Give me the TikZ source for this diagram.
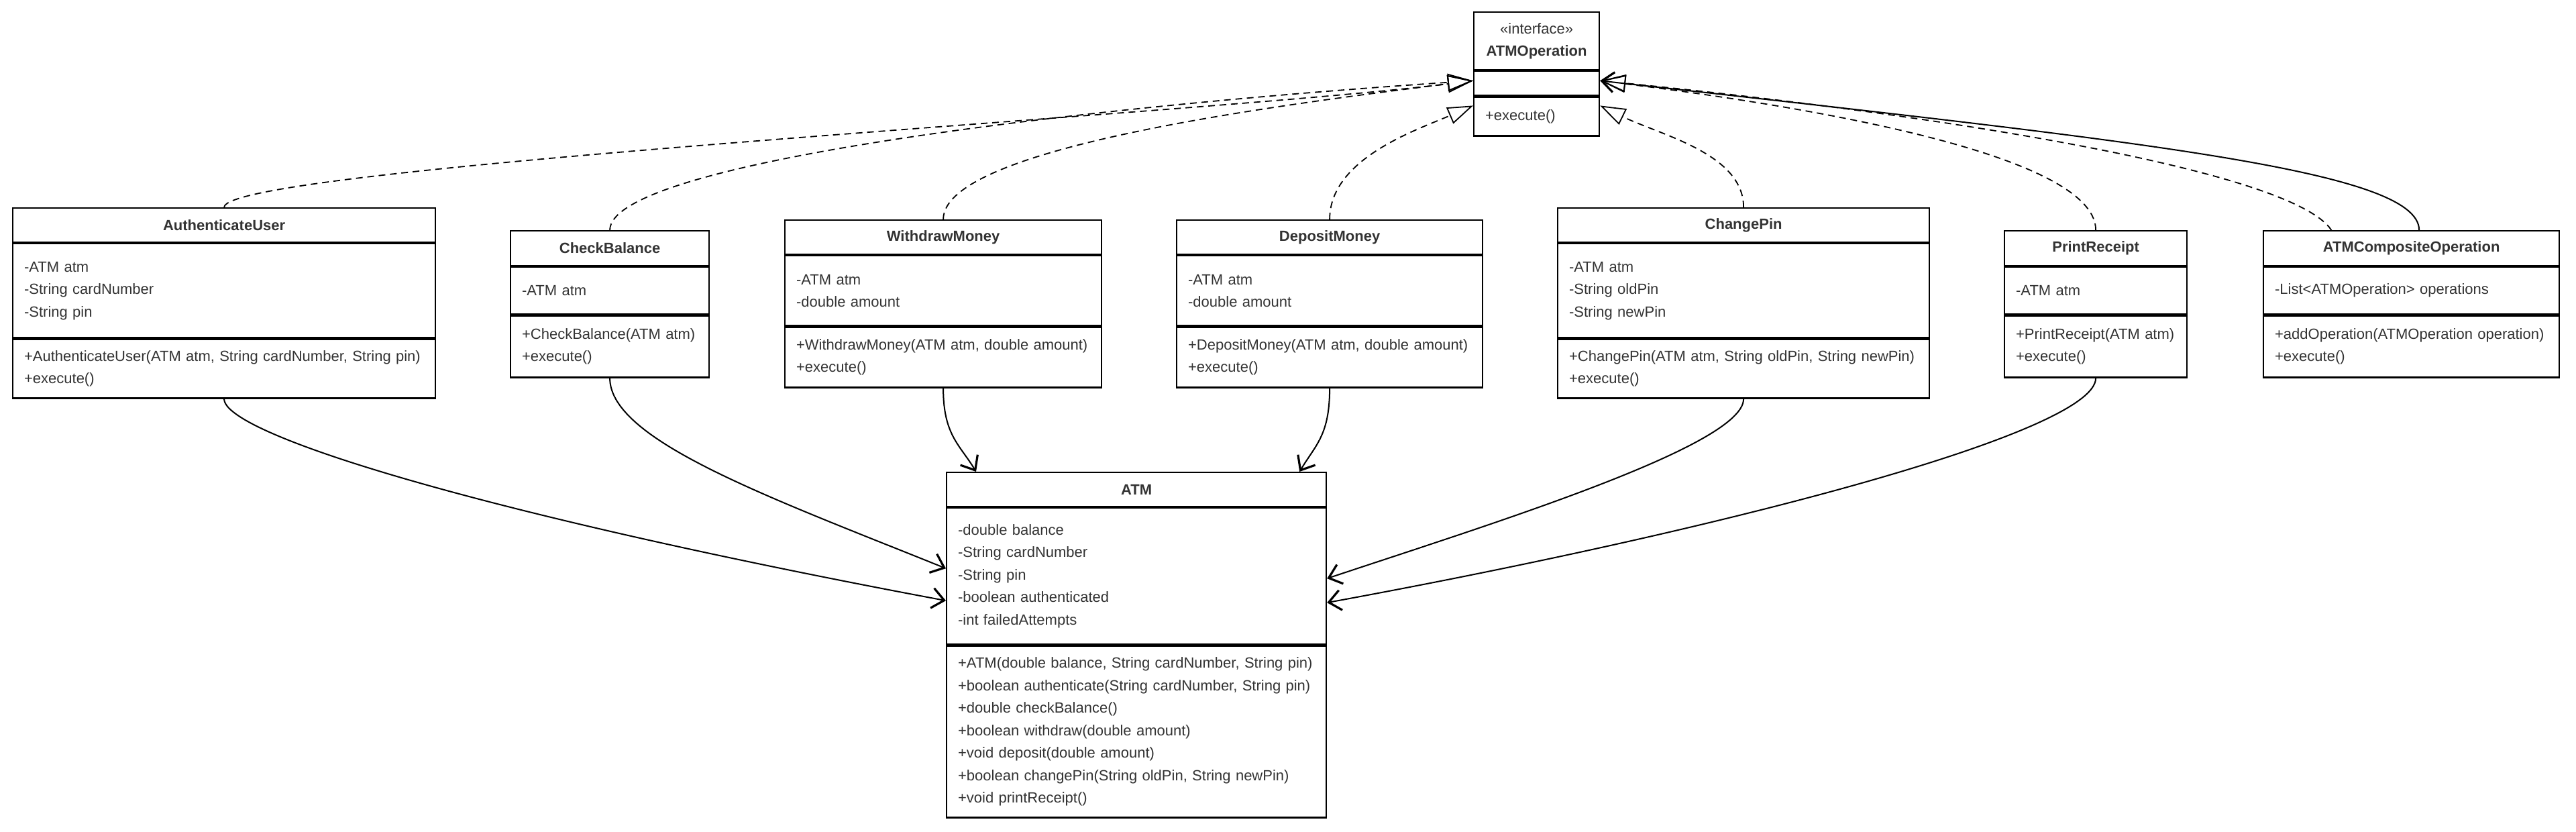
\documentclass[tikz,border=0pt]{standalone}
\usepackage{fontspec}
\setmainfont{Liberation Sans}
\usetikzlibrary{arrows.meta,calc}
\definecolor{txt}{HTML}{333333}
\begin{document}
\begin{tikzpicture}[x=1pt,y=-1pt,
  hdr/.style={draw, line width=1.1pt, anchor=north west, inner sep=0pt, align=center, text=txt, font=\fontsize{11}{16.75}\selectfont\bfseries},
  sec/.style={draw, line width=1.1pt, anchor=north west, inner xsep=8.5pt, inner ysep=0pt, align=left, text=txt, font=\fontsize{11}{16.75}\selectfont},
  realize/.style={line width=0.9pt, dash pattern=on 5pt off 3.5pt, -{Triangle[open,length=19pt,width=13pt,line width=0.9pt]}},
  assoc/.style={line width=1pt, -{Straight Barb[length=9pt,width=15pt,line width=1.6pt]}},
]
\fill[white] (0,0) rectangle (1920,620);
\useasboundingbox (0,0) rectangle (1920,620);

% ATMOperation
\node[hdr, minimum width=93.5pt, minimum height=43pt] (op) at (1098,8.5) {{\mdseries «interface»}\\ATMOperation};
\node[sec, text width=76.5pt, minimum height=18pt] (opa) at (op.south west) {};
\node[sec, text width=76.5pt, minimum height=29pt] (opm) at (opa.south west) {\mbox{+execute()}};

% AuthenticateUser
\node[hdr, minimum width=315pt, minimum height=25.5pt] (au) at (9,154.5) {AuthenticateUser};
\node[sec, text width=298pt, minimum height=70pt] (aua) at (au.south west) {\mbox{-ATM atm}\\\mbox{-String cardNumber}\\\mbox{-String pin}};
\node[sec, text width=298pt, minimum height=44pt] (aum) at (aua.south west) {\mbox{+AuthenticateUser(ATM atm, String cardNumber, String pin)}\\\mbox{+execute()}};

% CheckBalance
\node[hdr, minimum width=148pt, minimum height=26pt] (cb) at (380,171.5) {CheckBalance};
\node[sec, text width=131pt, minimum height=35pt] (cba) at (cb.south west) {\mbox{-ATM atm}};
\node[sec, text width=131pt, minimum height=46pt] (cbm) at (cba.south west) {\mbox{+CheckBalance(ATM atm)}\\\mbox{+execute()}};

% WithdrawMoney
\node[hdr, minimum width=236pt, minimum height=25.5pt] (wm) at (584.5,163.5) {WithdrawMoney};
\node[sec, text width=219pt, minimum height=52pt] (wma) at (wm.south west) {\mbox{-ATM atm}\\\mbox{-double amount}};
\node[sec, text width=219pt, minimum height=45pt] (wmm) at (wma.south west) {\mbox{+WithdrawMoney(ATM atm, double amount)}\\\mbox{+execute()}};

% DepositMoney
\node[hdr, minimum width=228pt, minimum height=25.5pt] (dm) at (876.5,163.5) {DepositMoney};
\node[sec, text width=211pt, minimum height=52pt] (dma) at (dm.south west) {\mbox{-ATM atm}\\\mbox{-double amount}};
\node[sec, text width=211pt, minimum height=45pt] (dmm) at (dma.south west) {\mbox{+DepositMoney(ATM atm, double amount)}\\\mbox{+execute()}};

% ChangePin
\node[hdr, minimum width=277pt, minimum height=25.5pt] (cp) at (1160.5,154.5) {ChangePin};
\node[sec, text width=260pt, minimum height=70pt] (cpa) at (cp.south west) {\mbox{-ATM atm}\\\mbox{-String oldPin}\\\mbox{-String newPin}};
\node[sec, text width=260pt, minimum height=44pt] (cpm) at (cpa.south west) {\mbox{+ChangePin(ATM atm, String oldPin, String newPin)}\\\mbox{+execute()}};

% PrintReceipt
\node[hdr, minimum width=136pt, minimum height=26pt] (pr) at (1493.5,171.5) {PrintReceipt};
\node[sec, text width=119pt, minimum height=35pt] (pra) at (pr.south west) {\mbox{-ATM atm}};
\node[sec, text width=119pt, minimum height=46pt] (prm) at (pra.south west) {\mbox{+PrintReceipt(ATM atm)}\\\mbox{+execute()}};

% ATMCompositeOperation
\node[hdr, minimum width=220.5pt, minimum height=26pt] (co) at (1686.5,171.5) {ATMCompositeOperation};
\node[sec, text width=203.5pt, minimum height=35pt] (coa) at (co.south west) {\mbox{-List<ATMOperation> operations}};
\node[sec, text width=203.5pt, minimum height=46pt] (com) at (coa.south west) {\mbox{+addOperation(ATMOperation operation)}\\\mbox{+execute()}};

% ATM
\node[hdr, minimum width=283pt, minimum height=25.5pt] (atm) at (705,351.5) {ATM};
\node[sec, text width=266pt, minimum height=101.5pt] (atma) at (atm.south west) {\mbox{-double balance}\\\mbox{-String cardNumber}\\\mbox{-String pin}\\\mbox{-boolean authenticated}\\\mbox{-int failedAttempts}};
\node[sec, text width=266pt, minimum height=128pt] (atmm) at (atma.south west) {\mbox{+ATM(double balance, String cardNumber, String pin)}\\\mbox{+boolean authenticate(String cardNumber, String pin)}\\\mbox{+double checkBalance()}\\\mbox{+boolean withdraw(double amount)}\\\mbox{+void deposit(double amount)}\\\mbox{+boolean changePin(String oldPin, String newPin)}\\\mbox{+void printReceipt()}};

% connector end points
\coordinate (opL1) at ($(opa.west)+(0,-2)$);
\coordinate (opL2) at ($(opm.north west)+(0,7)$);
\coordinate (opR1) at ($(opa.east)+(0,-2)$);
\coordinate (opR2) at ($(opm.north east)+(0,7)$);
\coordinate (atmL1) at ($(atma.north west)+(0,45.5)$);
\coordinate (atmL2) at ($(atma.north west)+(0,69.5)$);
\coordinate (atmT1) at ($(atm.north west)+(22.5,0)$);
\coordinate (atmT2) at ($(atm.north east)+(-20.5,0)$);
\coordinate (atmR1) at ($(atma.north east)+(0,53)$);
\coordinate (atmR2) at ($(atma.north east)+(0,71)$);
\coordinate (coD) at ($(co.north west)!0.231!(co.north east)$);
\coordinate (coS) at ($(co.north west)!0.526!(co.north east)$);

% realizations
\draw[realize] (au.north) .. controls +(0,-30) and +(-200,25) .. (opL1);
\draw[realize] (cb.north) .. controls +(0,-50) and +(-300,20) .. (opL1);
\draw[realize] (wm.north) .. controls +(0,-53.5) and +(-148,18.5) .. (opL1);
\draw[realize] (dm.north) .. controls +(0,-45) and +(-43,18.5) .. (opL2);
\draw[realize] (cp.north) .. controls +(0,-40) and +(45,22) .. (opR2);
\draw[realize] (pr.north) .. controls +(0,-50) and +(200,25) .. (opR1);
\draw[realize] (coD) .. controls +(-30,-45) and +(250,25) .. (opR1);
\draw[assoc] (coS) .. controls +(0,-45) and +(400,45) .. (opR1);

% associations
\draw[assoc] (aum.south) .. controls +(0,25.5) and +(-355,-66.5) .. (atmL2);
\draw[assoc] (cbm.south) .. controls +(0,46.5) and +(-130,-52.5) .. (atmL1);
\draw[assoc] (wmm.south) .. controls +(0,35) and +(-12,-20) .. (atmT1);
\draw[assoc] (dmm.south) .. controls +(0,35) and +(12,-20) .. (atmT2);
\draw[assoc] (cpm.south) .. controls +(0,35) and +(120,-40) .. (atmR1);
\draw[assoc] (prm.south) .. controls +(0,40) and +(300,-55) .. (atmR2);
\end{tikzpicture}
\end{document}
